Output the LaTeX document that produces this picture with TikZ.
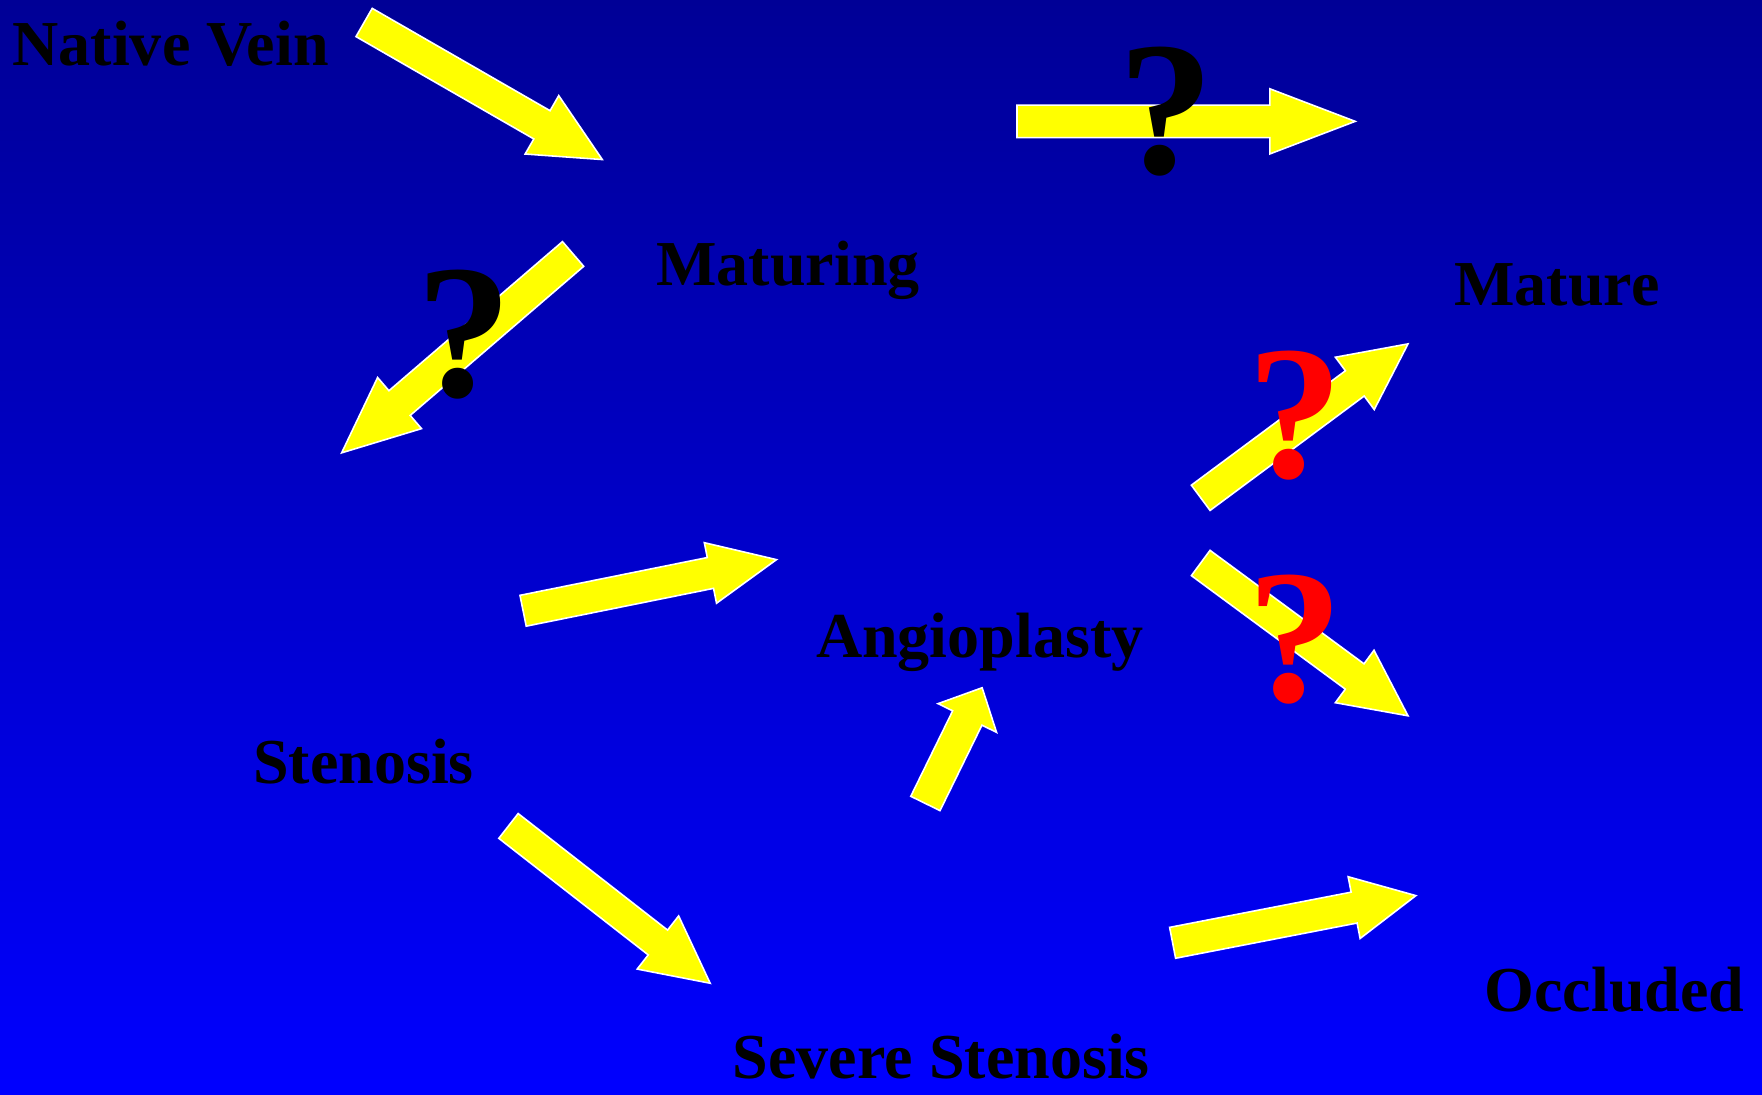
\documentclass[tikz,border=0pt]{standalone}
\usepackage{fontspec}
\setmainfont{Liberation Serif}
\usetikzlibrary{calc}

\definecolor{bgtop}{RGB}{0,0,150}
\definecolor{bgbot}{RGB}{0,0,255}
\definecolor{flowyellow}{RGB}{255,255,0}
\definecolor{qred}{RGB}{255,0,0}

\tikzset{
  flowarrow/.style={fill=flowyellow, draw=white, line width=1.4pt, line join=miter},
  stagelabel/.style={anchor=base west, inner sep=0pt, text=black,
    font=\fontsize{57}{60}\selectfont\bfseries},
  query/.style={anchor=base west, inner sep=0pt,
    font=\fontsize{170}{172}\selectfont\bfseries},
}

% block arrow: #1 tail, #2 tip, #3 shaft half-width, #4 head half-width, #5 head length
\newcommand\blockarrow[5]{%
  \coordinate (hb) at ($(#2)!#5!(#1)$);
  \filldraw[flowarrow]
    ($(#1)!#3!90:(#2)$) -- ($(hb)!#3!90:(#2)$) -- ($(hb)!#4!90:(#2)$) -- (#2)
    -- ($(hb)!#4!-90:(#2)$) -- ($(hb)!#3!-90:(#2)$) -- ($(#1)!#3!-90:(#2)$) -- cycle;
}

\begin{document}
\begin{tikzpicture}[x=1pt,y=-1pt]
  \useasboundingbox (0,0) rectangle (1568,974);
  \shade[top color=bgtop, bottom color=bgbot] (0,0) rectangle (1568,974);

  % stages
  \node[stagelabel] (native)   at (11,58)    {Native Vein};
  \node[stagelabel] (maturing) at (584,254)  {Maturing};
  \node[stagelabel] (mature)   at (1294,272) {Mature};
  \node[stagelabel] (angio)    at (726,585)  {Angioplasty};
  \node[stagelabel] (stenosis) at (225,697)  {Stenosis};
  \node[stagelabel] (severe)   at (652,960)  {Severe Stenosis};
  \node[stagelabel] (occluded) at (1321,900) {Occluded};

  % arrow ends
  \coordinate (a1t) at (324,20);     \coordinate (a1h) at (536,142);
  \coordinate (a2t) at (905,108);    \coordinate (a2h) at (1206,108);
  \coordinate (a3t) at (510,226);    \coordinate (a3h) at (304,403);
  \coordinate (a4t) at (465.5,543.5);\coordinate (a4h) at (691,498);
  \coordinate (a5t) at (452.5,735);  \coordinate (a5h) at (632,875);
  \coordinate (a6t) at (823.5,715);  \coordinate (a6h) at (874,612);
  \coordinate (a7t) at (1068.5,443); \coordinate (a7h) at (1253,306);
  \coordinate (a8t) at (1068.5,501); \coordinate (a8h) at (1253,637);
  \coordinate (a9t) at (1043.5,839); \coordinate (a9h) at (1260,797);

  \blockarrow{a1t}{a1h}{14.5pt}{30pt}{62pt}
  \blockarrow{a2t}{a2h}{14.5pt}{29pt}{76pt}
  \blockarrow{a3t}{a3h}{14.5pt}{30pt}{68pt}
  \blockarrow{a4t}{a4h}{14pt}{27.5pt}{60pt}
  \blockarrow{a5t}{a5h}{14pt}{30pt}{59pt}
  \blockarrow{a6t}{a6h}{14.5pt}{29pt}{30pt}
  \blockarrow{a7t}{a7h}{14pt}{29pt}{59pt}
  \blockarrow{a8t}{a8h}{14pt}{29pt}{59pt}
  \blockarrow{a9t}{a9h}{14pt}{28pt}{56pt}

  % question marks over uncertain transitions
  \node[query, text=black] (q1) at (995,154) {?};
  \node[query, text=black] (q2) at (370,353) {?};
  \node[query, text=qred]  (q3) at (1110,425) {?};
  \node[query, text=qred]  (q4) at (1110,624) {?};
\end{tikzpicture}
\end{document}
